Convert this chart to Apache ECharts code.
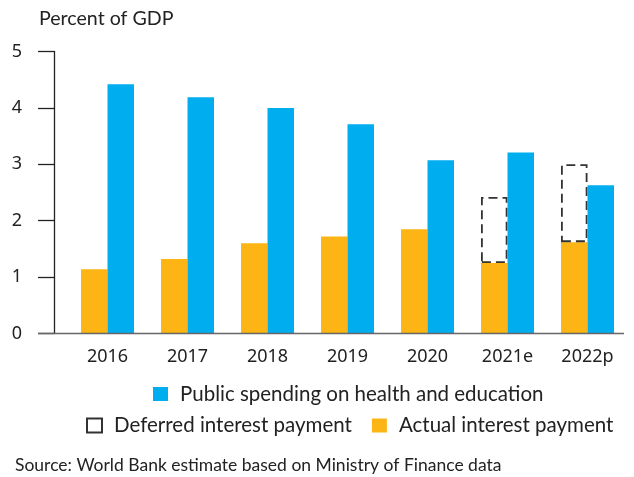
<!DOCTYPE html>
<html>
<head>
<meta charset="utf-8">
<script src="https://cdn.jsdelivr.net/npm/echarts@6/dist/echarts.min.js"></script>
<style>
  html, body { margin: 0; padding: 0; background: #fff; }
  #chart { width: 634px; height: 477px; }
</style>
</head>
<body>
<div id="chart"></div>
<script>
// data
var years = ['2016', '2017', '2018', '2019', '2020', '2021e', '2022p'];
var actualInterest = [1.14, 1.32, 1.60, 1.72, 1.85, 1.25, 1.62];
var deferredInterest = [null, null, null, null, null, 1.17, 1.38];
var publicSpending = [4.42, 4.19, 4.00, 3.71, 3.07, 3.21, 2.63];
var yTicks = [0, 1, 2, 3, 4, 5];

var fontFam = 'Lato, "Noto Sans", sans-serif';
var numFont = '"Noto Sans", sans-serif';
var BLUE = '#00adef';
var ORANGE = '#fdb515';

var chart = echarts.init(document.getElementById('chart'));

var legendText = {fontFamily: fontFam, fontSize: 20.5, color: '#222', padding: [0, 0, 0, 7]};

var option = {
    animation: false,
    textStyle: {fontFamily: fontFam},
    title: [{
        text: 'Percent of GDP',
        left: 39,
        top: 9,
        padding: 0,
        textStyle: {fontFamily: fontFam, fontSize: 19.6, fontWeight: 'normal', color: '#222'}
    }, {
        text: 'Source: World Bank estimate based on Ministry of Finance data',
        left: 15,
        top: 456,
        padding: 0,
        textStyle: {fontFamily: fontFam, fontSize: 17.5, fontWeight: 'normal', color: '#222'}
    }],
    legend: [{
        data: ['Public spending on health and education'],
        left: 153,
        top: 383.5,
        padding: 0,
        itemWidth: 15,
        itemHeight: 14,
        icon: 'rect',
        textStyle: legendText
    }, {
        data: ['Deferred interest payment', 'Actual interest payment'],
        left: 86,
        top: 415,
        padding: 0,
        itemWidth: 15,
        itemHeight: 14,
        itemGap: 20,
        icon: 'rect',
        textStyle: legendText
    }],
    grid: {left: 67.5, right: 6.5, top: 51.5, bottom: 143.5, containLabel: false},
    xAxis: {
        type: 'category',
        data: years,
        axisLine: {show: false},
        axisTick: {show: false},
        axisLabel: {fontFamily: numFont, fontSize: 18, color: '#222', margin: 14}
    },
    yAxis: {
        type: 'value',
        min: yTicks[0],
        max: yTicks[yTicks.length - 1],
        interval: 1,
        offset: 13.5,
        axisLine: {show: true, lineStyle: {color: '#222', width: 1.3}},
        axisTick: {show: true, length: 16, lineStyle: {color: '#222', width: 1.3}},
        axisLabel: {fontFamily: numFont, fontSize: 18, color: '#222', margin: 32},
        splitLine: {show: false}
    },
    series: [{
        name: 'Actual interest payment',
        type: 'bar',
        stack: 'interest',
        data: actualInterest,
        barGap: '0%',
        barCategoryGap: '33.75%',
        itemStyle: {color: ORANGE}
    }, {
        name: 'Deferred interest payment',
        type: 'bar',
        stack: 'interest',
        data: deferredInterest,
        itemStyle: {
            color: 'rgba(0,0,0,0)',
            borderColor: '#333',
            borderWidth: 1.8,
            borderType: [9, 5]
        }
    }, {
        name: 'Public spending on health and education',
        type: 'bar',
        stack: 'spending',
        data: publicSpending,
        itemStyle: {color: BLUE}
    }]
};

chart.setOption(option);

// baseline runs from the y-axis tick start to the right edge of the plot
var p0 = chart.convertToPixel({gridIndex: 0}, [0, 0]);
var gridRect = chart.getModel().getComponent('grid').coordinateSystem.getRect();
chart.setOption({
    graphic: [{
        type: 'line',
        shape: {x1: gridRect.x - 13.5 - 16, y1: p0[1], x2: gridRect.x + gridRect.width - 3.5, y2: p0[1]},
        style: {stroke: '#666', lineWidth: 1.5},
        z: 10
    }]
});
</script>
</body>
</html>
